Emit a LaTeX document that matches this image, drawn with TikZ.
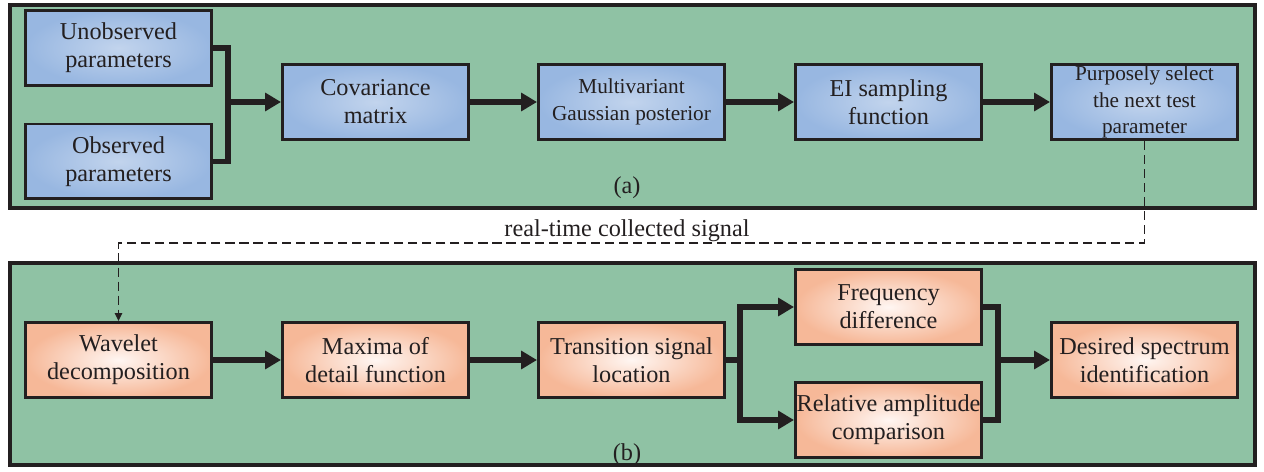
\documentclass[tikz,border=0pt]{standalone}
\usepackage{fontspec}
\setmainfont{Liberation Serif}
\usetikzlibrary{arrows.meta}

\definecolor{panelgreen}{RGB}{143,194,164}
\definecolor{bluein}{RGB}{194,212,237}
\definecolor{blueout}{RGB}{152,183,225}
\definecolor{salmonin}{RGB}{255,246,242}
\definecolor{salmonout}{RGB}{246,184,152}
\definecolor{inkline}{RGB}{35,31,32}

\tikzset{
  panel/.style={draw=inkline, line width=2.4pt, fill=panelgreen},
  blk/.style={draw=inkline, line width=1.7pt, text=inkline, align=center, inner sep=0pt,
    minimum width=3.72cm, minimum height=1.5cm, font=\fontsize{13.8}{16}\selectfont},
  blkA/.style={blk, inner color=bluein, outer color=blueout},
  blkB/.style={blk, inner color=salmonin, outer color=salmonout},
  small/.style={font=\fontsize{12.1}{15}\selectfont},
  bar/.style={draw=inkline, line width=3.4pt, line join=miter},
  flow/.style={bar, -{Triangle[length=9pt,width=10pt]}},
  sig/.style={draw=inkline, line width=1.1pt, dash pattern=on 5.2pt off 2.8pt,
    -{Triangle[length=4.5pt,width=4pt]}},
  tag/.style={text=inkline, font=\fontsize{13.8}{16}\selectfont}
}

\begin{document}
\begin{tikzpicture}[x=0.02cm, y=-0.02cm]
  \useasboundingbox (0,0) rectangle (1264,472);

  % panels
  \draw[panel] (10,5) rectangle (1255,208);
  \draw[panel] (10,263) rectangle (1255,465);
  \node[tag] (tagA) at (627,188) {(a)};
  \node[tag] (tagB) at (627,455) {(b)};

  % (a) Bayesian optimisation
  \node[blkA] (unobs) at (118.5,48) {Unobserved\\parameters};
  \node[blkA] (obs) at (118.5,161.5) {Observed\\parameters};
  \node[blkA] (cov) at (375.5,102) {Covariance\\matrix};
  \node[blkA, small] (mvg) at (631.5,102) {Multivariant\\Gaussian posterior};
  \node[blkA] (ei) at (888.5,102) {EI sampling\\function};
  \node[blkA, small] (sel) at (1144.5,102) {Purposely select\\the next test\\parameter};

  \coordinate (jA) at (228,102);
  \draw[bar] (unobs.east) -| (jA) |- (obs.east);
  \draw[flow] (jA) -- (cov.west);
  \draw[flow] (cov) -- (mvg);
  \draw[flow] (mvg) -- (ei);
  \draw[flow] (ei) -- (sel);

  % (b) signal processing
  \node[blkB] (wav) at (118.5,360) {Wavelet\\decomposition};
  \node[blkB] (maxd) at (375.5,360) {Maxima of\\detail function};
  \node[blkB] (trans) at (631.5,360) {Transition signal\\location};
  \node[blkB] (freq) at (888.5,307) {Frequency\\difference};
  \node[blkB] (rel) at (888.5,420) {Relative amplitude\\comparison};
  \node[blkB] (des) at (1144.5,360) {Desired spectrum\\identification};

  \draw[flow] (wav) -- (maxd);
  \draw[flow] (maxd) -- (trans);
  \coordinate (jB) at (740,360);
  \draw[bar] (trans.east) -- (jB);
  \draw[flow] (jB) |- (freq.west);
  \draw[flow] (jB) |- (rel.west);
  \coordinate (jC) at (998,360);
  \draw[bar] (freq.east) -| (jC) |- (rel.east);
  \draw[flow] (jC) -- (des.west);

  % feedback of the measured signal
  \coordinate (dr) at (sel.south |- 0,243);
  \coordinate (dl) at (wav.north |- dr);
  \draw[sig] (sel.south) -- (dr) -- (dl) -- (wav.north);
  \node[tag] (sigtxt) at (627,231) {real-time collected signal};
\end{tikzpicture}
\end{document}
